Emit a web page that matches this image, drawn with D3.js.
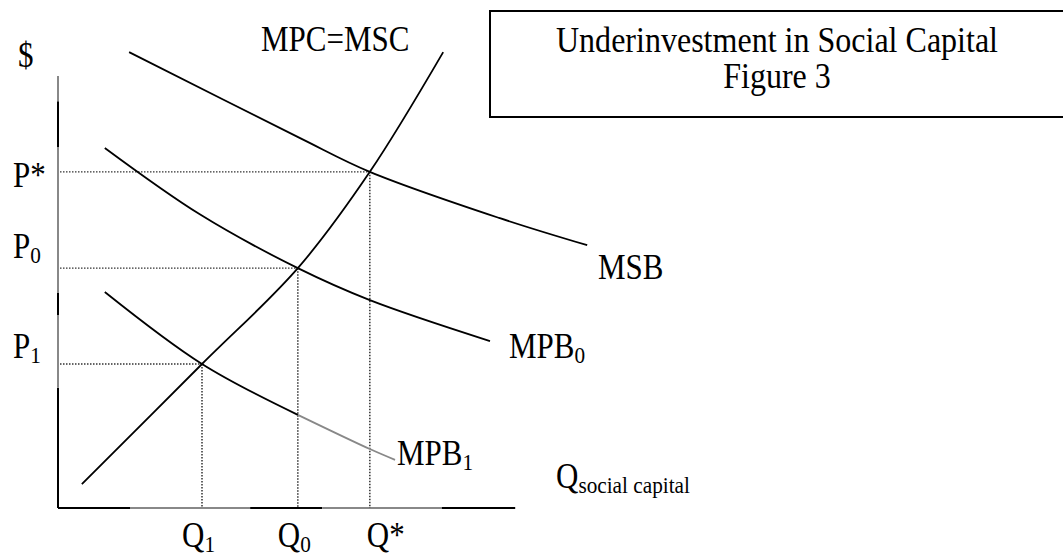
<!DOCTYPE html>
<html>
<head>
<meta charset="utf-8">
<script src="https://cdn.jsdelivr.net/npm/d3@7"></script>
<style>
  body { margin: 0; background: #fff; }
  svg { display: block; font-family: "Liberation Serif", "Times New Roman", serif; }
</style>
</head>
<body>
<div id="grafico"></div>
<script>
// curvas en unidades del grafico (cantidad, precio)
const mpcMsc = [[5.3, 5.3], [32, 32], [53.3, 53.3], [69.3, 74.7], [85.6, 101.3]];
const msb = [[15.8, 101.3], [53.8, 82.2], [69.3, 74.7], [98.2, 64.4], [117.6, 58.4]];
const mpb0 = [[10.4, 80], [31.6, 65.2], [53.3, 53.3], [69.3, 46.2], [96, 37.1]];
const mpb1 = [[10.4, 48], [32, 32], [53.3, 20.7]];
const mpb1Cola = [[53.3, 20.7], [69.3, 13.1], [74.9, 10.7]];

// equilibrios
const subindices = ["*", "0", "1"];
const cantidades = [69.3, 53.3, 32];
const precios = [74.7, 53.3, 32];

const titulo = ["Underinvestment in Social Capital", "Figure 3"];

const ancho = 1063, alto = 558;
const x = d3.scaleLinear().domain([0, 100]).range([58, 508]);
const y = d3.scaleLinear().domain([0, 100]).range([508, 58]);

const $svg = d3.select("#grafico")
    .append("svg")
    .attr("width", ancho)
    .attr("height", alto);

// ejes (tramos negros y grises como en la figura original)
const tramosY = [[0, 26.7, "#000"], [26.7, 42.9, "#888"], [42.9, 47.8, "#000"], [47.8, 80.2, "#888"], [80.2, 90.4, "#000"], [90.4, 96, "#888"]];
const tramosX = [[0, 16, "#000"], [16, 42.7, "#888"], [42.7, 58.7, "#000"], [58.7, 85.3, "#888"], [85.3, 101.6, "#000"]];
tramosY.forEach(([a, b, c]) => {
    $svg.append("line")
        .attr("x1", x(0)).attr("x2", x(0))
        .attr("y1", y(a)).attr("y2", y(b))
        .attr("stroke", c).attr("stroke-width", 2);
});
tramosX.forEach(([a, b, c]) => {
    $svg.append("line")
        .attr("x1", x(a)).attr("x2", x(b))
        .attr("y1", y(0)).attr("y2", y(0))
        .attr("stroke", c).attr("stroke-width", 2);
});

// lineas punteadas de equilibrio
cantidades.forEach((q, i) => {
    const p = precios[i];
    $svg.append("line")
        .attr("x1", x(0) + 2).attr("x2", x(q))
        .attr("y1", y(p)).attr("y2", y(p))
        .attr("stroke", "#333").attr("stroke-width", 1.3)
        .attr("stroke-dasharray", "1.5,1.5");
    $svg.append("line")
        .attr("x1", x(q)).attr("x2", x(q))
        .attr("y1", y(p)).attr("y2", y(0))
        .attr("stroke", "#111").attr("stroke-width", 1.3)
        .attr("stroke-dasharray", "1.5,1.5");
});

const linea = d3.line()
    .x(d => x(d[0]))
    .y(d => y(d[1]))
    .curve(d3.curveCatmullRom.alpha(0.5));

const dibujarCurva = (datos, color) => {
    $svg.append("path")
        .attr("d", linea(datos))
        .attr("fill", "none")
        .attr("stroke", color)
        .attr("stroke-width", 1.8);
};
dibujarCurva(mpcMsc, "#000");
dibujarCurva(msb, "#000");
dibujarCurva(mpb0, "#000");
dibujarCurva(mpb1, "#000");
dibujarCurva(mpb1Cola, "#888");

// textos: Times algo estrecho, mas alto que ancho
const texto = (px, py, principal, sub, tam = 35, estrecho = 0.886) => {
    const t = $svg.append("text")
        .attr("transform", `translate(${px},${py}) scale(${estrecho},1)`)
        .attr("font-size", tam)
        .attr("fill", "#000");
    t.append("tspan").text(principal);
    if (sub) {
        t.append("tspan")
            .attr("font-size", Math.round(tam * 0.68))
            .attr("dy", 5)
            .text(sub);
    }
    return t;
};

texto(18, 67, "$");
texto(261, 51, "MPC=MSC");
texto(598, 279, "MSB");
texto(509, 358, "MPB", "0");
texto(397, 465, "MPB", "1");
texto(556, 488, "Q", "social capital");

const baseP = { "*": 187, "0": 258, "1": 358 };
subindices.forEach((s, i) => {
    if (s === "*") {
        texto(13, baseP[s], "P*");
        texto(x(cantidades[i]) - 3, 547, "Q*");
    } else {
        texto(13, baseP[s], "P", s);
        texto(x(cantidades[i]) - 20, 547, "Q", s);
    }
});

// recuadro del titulo
$svg.append("rect")
    .attr("x", 490).attr("y", 11)
    .attr("width", 600).attr("height", 106)
    .attr("fill", "none")
    .attr("stroke", "#000")
    .attr("stroke-width", 2);

titulo.forEach((linea, i) => {
    $svg.append("text")
        .attr("transform", `translate(777,${52 + i * 36}) scale(0.89,1)`)
        .attr("text-anchor", "middle")
        .attr("font-size", 36)
        .text(linea);
});
</script>
</body>
</html>
